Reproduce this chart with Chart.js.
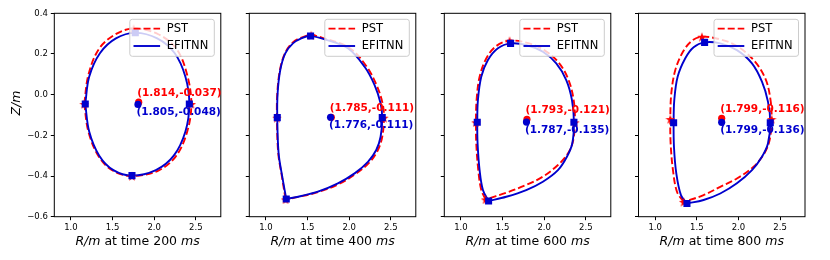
<!DOCTYPE html>
<html>
<head>
<meta charset="utf-8">
<script src="https://cdn.jsdelivr.net/npm/chart.js@4.4.0/dist/chart.umd.min.js"></script>
<style>
html, body { margin: 0; padding: 0; background: #fff; }
#wrap { position: relative; width: 830px; height: 260px; overflow: hidden; }
#wrap canvas { position: absolute; top: 0; }
</style>
</head>
<body>
<div id="wrap"></div>
<script>
const times = [200, 400, 600, 800];
const xTicks = [1.0, 1.5, 2.0, 2.5];
const yTicks = [-0.6, -0.4, -0.2, 0.0, 0.2, 0.4];

// magnetic axis (R, Z)
const pstAxis = [[1.814, -0.037], [1.785, -0.111], [1.793, -0.121], [1.799, -0.116]];
const efitAxis = [[1.805, -0.048], [1.776, -0.111], [1.787, -0.135], [1.799, -0.136]];

// boundaries, 200 ms
const pst200R = [1.160, 1.209, 1.335, 1.535, 1.753, 2.049, 2.270, 2.397, 2.446, 2.397, 2.262, 2.050, 1.733, 1.500, 1.330, 1.209, 1.160];
const pst200Z = [-0.046, 0.096, 0.224, 0.297, 0.325, 0.297, 0.224, 0.096, -0.046, -0.181, -0.302, -0.373, -0.400, -0.373, -0.302, -0.181, -0.046];
const efit200R = [1.172, 1.219, 1.350, 1.540, 1.773, 2.036, 2.245, 2.375, 2.422, 2.375, 2.235, 2.020, 1.733, 1.510, 1.340, 1.219, 1.172];
const efit200Z = [-0.046, 0.088, 0.205, 0.277, 0.304, 0.277, 0.205, 0.088, -0.046, -0.181, -0.300, -0.371, -0.398, -0.371, -0.300, -0.181, -0.046];

// 400 ms
const pst400R = [1.236, 1.192, 1.148, 1.132, 1.136, 1.168, 1.228, 1.320, 1.424, 1.544, 1.712, 2.000, 2.205, 2.329, 2.401, 2.417, 2.397, 2.345, 2.245, 2.077, 1.872, 1.624, 1.424, 1.236];
const pst400Z = [-0.515, -0.403, -0.289, -0.113, 0.006, 0.121, 0.203, 0.256, 0.280, 0.292, 0.275, 0.231, 0.141, 0.047, -0.043, -0.113, -0.207, -0.272, -0.332, -0.390, -0.440, -0.479, -0.500, -0.515];
const efit400R = [1.244, 1.196, 1.152, 1.136, 1.140, 1.172, 1.232, 1.324, 1.424, 1.536, 1.704, 1.984, 2.185, 2.305, 2.377, 2.397, 2.377, 2.325, 2.225, 2.065, 1.864, 1.624, 1.424, 1.244];
const efit400Z = [-0.513, -0.403, -0.289, -0.113, 0.006, 0.121, 0.203, 0.252, 0.277, 0.288, 0.272, 0.228, 0.137, 0.047, -0.043, -0.113, -0.207, -0.272, -0.330, -0.387, -0.436, -0.477, -0.498, -0.513];

// 600 ms
const pst600R = [1.296, 1.244, 1.208, 1.184, 1.180, 1.188, 1.224, 1.304, 1.424, 1.584, 1.784, 1.984, 2.165, 2.285, 2.353, 2.369, 2.345, 2.285, 2.165, 1.984, 1.784, 1.544, 1.296];
const pst600Z = [-0.515, -0.469, -0.371, -0.240, -0.136, -0.026, 0.088, 0.178, 0.239, 0.265, 0.256, 0.223, 0.162, 0.080, -0.023, -0.136, -0.231, -0.289, -0.346, -0.403, -0.444, -0.482, -0.515];
const efit600R = [1.332, 1.264, 1.224, 1.200, 1.196, 1.204, 1.244, 1.324, 1.444, 1.596, 1.784, 1.984, 2.145, 2.265, 2.333, 2.357, 2.337, 2.273, 2.165, 1.984, 1.784, 1.544, 1.332];
const efit600Z = [-0.523, -0.469, -0.371, -0.240, -0.136, -0.026, 0.088, 0.170, 0.228, 0.252, 0.244, 0.211, 0.154, 0.072, -0.026, -0.136, -0.240, -0.305, -0.371, -0.428, -0.469, -0.502, -0.523];

// 800 ms
const pst800R = [1.342, 1.262, 1.214, 1.186, 1.182, 1.194, 1.242, 1.334, 1.442, 1.562, 1.782, 1.982, 2.183, 2.323, 2.383, 2.399, 2.375, 2.311, 2.183, 1.982, 1.782, 1.582, 1.342];
const pst800Z = [-0.527, -0.477, -0.371, -0.240, -0.120, 0.006, 0.121, 0.211, 0.265, 0.285, 0.272, 0.239, 0.170, 0.080, -0.018, -0.120, -0.223, -0.289, -0.354, -0.412, -0.453, -0.494, -0.527];
const efit800R = [1.382, 1.310, 1.254, 1.226, 1.222, 1.230, 1.270, 1.362, 1.462, 1.594, 1.782, 1.982, 2.163, 2.283, 2.355, 2.383, 2.355, 2.283, 2.163, 1.982, 1.782, 1.582, 1.382];
const efit800Z = [-0.535, -0.494, -0.387, -0.256, -0.138, -0.026, 0.088, 0.179, 0.233, 0.257, 0.252, 0.219, 0.154, 0.064, -0.034, -0.138, -0.240, -0.305, -0.371, -0.436, -0.486, -0.518, -0.535];

const pstR = [pst200R, pst400R, pst600R, pst800R];
const pstZ = [pst200Z, pst400Z, pst600Z, pst800Z];
const efitR = [efit200R, efit400R, efit600R, efit800R];
const efitZ = [efit200Z, efit400Z, efit600Z, efit800Z];

const RED = '#ff0000';
const BLUE = '#0000cd';
const FONT = '"DejaVu Sans", sans-serif';

// layout in page pixels
const canvasLeft = [0, 239, 434, 628];
const plotLeft = [54.3, 249.3, 444.3, 638.5];
const plotW = 166.5;
const canvasW = 235;

function toPoints(R, Z) {
    return R.map((r, i) => ({ x: r, y: Z[i] }));
}

function extremes(R, Z) {
    const idx = [
        R.indexOf(Math.min(...R)),
        R.indexOf(Math.max(...R)),
        Z.indexOf(Math.max(...Z)),
        Z.indexOf(Math.min(...Z))
    ];
    return idx.map(i => ({ x: R[i], y: Z[i] }));
}

function makeStar(size, color) {
    const c = document.createElement('canvas');
    c.width = c.height = size;
    const g = c.getContext('2d');
    const ro = size / 2, ri = ro * 0.4;
    g.beginPath();
    for (let i = 0; i < 10; i++) {
        const r = i % 2 ? ri : ro;
        const a = -Math.PI / 2 + i * Math.PI / 5;
        g.lineTo(size / 2 + r * Math.cos(a), size / 2 + 0.6 + r * Math.sin(a));
    }
    g.closePath();
    g.fillStyle = color;
    g.fill();
    return c;
}
const starImg = makeStar(10, RED);

function fmtAxis(p) {
    return '(' + p[0].toFixed(3) + ',' + p[1].toFixed(3) + ')';
}

function roundRect(ctx, x, y, w, h, r) {
    ctx.beginPath();
    ctx.moveTo(x + r, y);
    ctx.arcTo(x + w, y, x + w, y + h, r);
    ctx.arcTo(x + w, y + h, x, y + h, r);
    ctx.arcTo(x, y + h, x, y, r);
    ctx.arcTo(x, y, x + w, y, r);
    ctx.closePath();
}

const panelPlugin = {
    id: 'panel',
    afterDatasetsDraw(chart, args, opts) {
        const { ctx, chartArea: a, scales } = chart;
        const sx = scales.x, sy = scales.y;
        ctx.save();

        // frame
        ctx.strokeStyle = '#000';
        ctx.lineWidth = 1;
        ctx.strokeRect(a.left, a.top, a.right - a.left, a.bottom - a.top);

        // axis annotations
        ctx.font = 'bold 10.5px ' + FONT;
        ctx.textAlign = 'left';
        ctx.fillStyle = RED;
        ctx.textBaseline = 'bottom';
        ctx.fillText(fmtAxis(opts.pst), sx.getPixelForValue(opts.pst[0]) - 1.5, sy.getPixelForValue(opts.pst[1]) - 3.5);
        ctx.fillStyle = BLUE;
        ctx.textBaseline = 'top';
        ctx.fillText(fmtAxis(opts.efit), sx.getPixelForValue(opts.efit[0]) - 1.5, sy.getPixelForValue(opts.efit[1]) + 2.5);

        // legend
        const bw = 84.5, bh = 37;
        const bx = a.right - 6.5 - bw, by = a.top + 6;
        roundRect(ctx, bx, by, bw, bh, 2.5);
        ctx.fillStyle = 'rgba(255,255,255,0.8)';
        ctx.fill();
        ctx.strokeStyle = '#cccccc';
        ctx.lineWidth = 1;
        ctx.stroke();
        const items = chart.data.datasets.filter(d => d.legendRank).sort((p, q) => p.legendRank - q.legendRank);
        ctx.font = '11.5px ' + FONT;
        ctx.textBaseline = 'middle';
        items.forEach((d, i) => {
            const ly = by + 9.3 + i * 17.4;
            ctx.beginPath();
            ctx.strokeStyle = d.borderColor;
            ctx.lineWidth = 1.9;
            ctx.setLineDash(d.borderDash || []);
            ctx.moveTo(bx + 3.7, ly);
            ctx.lineTo(bx + 30.3, ly);
            ctx.stroke();
            ctx.setLineDash([]);
            ctx.fillStyle = '#000';
            ctx.fillText(d.label, bx + 37, ly + 0.5);
        });
        ctx.restore();
    },
    afterDraw(chart, args, opts) {
        const { ctx, chartArea: a } = chart;
        ctx.save();
        ctx.fillStyle = '#000';
        ctx.textBaseline = 'alphabetic';
        ctx.textAlign = 'left';
        const segs = [
            ['italic 12.5px ' + FONT, 'R/m'],
            ['12.5px ' + FONT, ' at time ' + opts.time + ' '],
            ['italic 12.5px ' + FONT, 'ms']
        ];
        let total = 0;
        segs.forEach(s => { ctx.font = s[0]; total += ctx.measureText(s[1]).width; });
        let x = (a.left + a.right) / 2 - total / 2;
        segs.forEach(s => {
            ctx.font = s[0];
            ctx.fillText(s[1], x, 245);
            x += ctx.measureText(s[1]).width;
        });
        if (opts.showY) {
            ctx.translate(19.5, 103);
            ctx.rotate(-Math.PI / 2);
            ctx.font = 'italic 12.5px ' + FONT;
            ctx.textAlign = 'center';
            ctx.fillText('Z/m', 0, 0);
        }
        ctx.restore();
    }
};

const wrap = document.getElementById('wrap');

times.forEach((t, k) => {
    const canvas = document.createElement('canvas');
    canvas.width = canvasW;
    canvas.height = 260;
    canvas.style.left = canvasLeft[k] + 'px';
    canvas.style.width = canvasW + 'px';
    canvas.style.height = '260px';
    wrap.appendChild(canvas);

    const axisW = plotLeft[k] - canvasLeft[k];
    const showY = k === 0;

    // first dataset is drawn on top
    new Chart(canvas.getContext('2d'), {
        type: 'scatter',
        data: {
            datasets: [
                {
                    data: [{ x: efitAxis[k][0], y: efitAxis[k][1] }],
                    pointStyle: 'circle', pointRadius: 3.6, backgroundColor: BLUE, borderWidth: 0
                },
                {
                    data: [{ x: pstAxis[k][0], y: pstAxis[k][1] }],
                    pointStyle: 'circle', pointRadius: 3.6, backgroundColor: RED, borderWidth: 0
                },
                {
                    data: extremes(efitR[k], efitZ[k]),
                    pointStyle: 'rect', pointRadius: 5, backgroundColor: BLUE, borderWidth: 0
                },
                {
                    data: extremes(pstR[k], pstZ[k]),
                    pointStyle: starImg, pointRadius: 5, backgroundColor: RED, borderWidth: 0
                },
                {
                    label: 'EFITNN', legendRank: 2,
                    data: toPoints(efitR[k], efitZ[k]),
                    showLine: true, borderColor: BLUE, borderWidth: 1.9,
                    pointRadius: 0, tension: 0.35
                },
                {
                    label: 'PST', legendRank: 1,
                    data: toPoints(pstR[k], pstZ[k]),
                    showLine: true, borderColor: RED, borderWidth: 1.9, borderDash: [7, 3],
                    pointRadius: 0, tension: 0.35
                }
            ]
        },
        options: {
            responsive: false,
            animation: false,
            events: [],
            layout: { padding: { left: 0, top: 13.3, right: canvasW - axisW - plotW, bottom: 0 } },
            plugins: {
                legend: { display: false },
                tooltip: { enabled: false },
                panel: { time: t, showY: showY, pst: pstAxis[k], efit: efitAxis[k] }
            },
            scales: {
                x: {
                    type: 'linear', min: 0.8, max: 2.8,
                    afterBuildTicks: s => { s.ticks = xTicks.map(v => ({ value: v })); },
                    afterFit: s => { s.height = 43.3; },
                    ticks: {
                        color: '#000', font: { family: FONT, size: 8.5 }, padding: 2.5,
                        maxRotation: 0, autoSkip: false,
                        callback: v => v.toFixed(1)
                    },
                    grid: { display: true, drawOnChartArea: false, drawTicks: true, tickLength: 3.5, tickColor: '#000', tickWidth: 1 },
                    border: { display: false }
                },
                y: {
                    type: 'linear', min: -0.6, max: 0.4,
                    afterBuildTicks: s => { s.ticks = yTicks.map(v => ({ value: v })); },
                    afterFit: s => { s.width = axisW; },
                    ticks: {
                        display: showY,
                        color: '#000', font: { family: FONT, size: 8.5 }, padding: 3,
                        callback: v => (v < -1e-9 ? '\u2212' : '') + Math.abs(v).toFixed(1)
                    },
                    grid: { display: true, drawOnChartArea: false, drawTicks: true, tickLength: 3.5, tickColor: '#000', tickWidth: 1 },
                    border: { display: false }
                }
            }
        },
        plugins: [panelPlugin]
    });
});
</script>
</body>
</html>
